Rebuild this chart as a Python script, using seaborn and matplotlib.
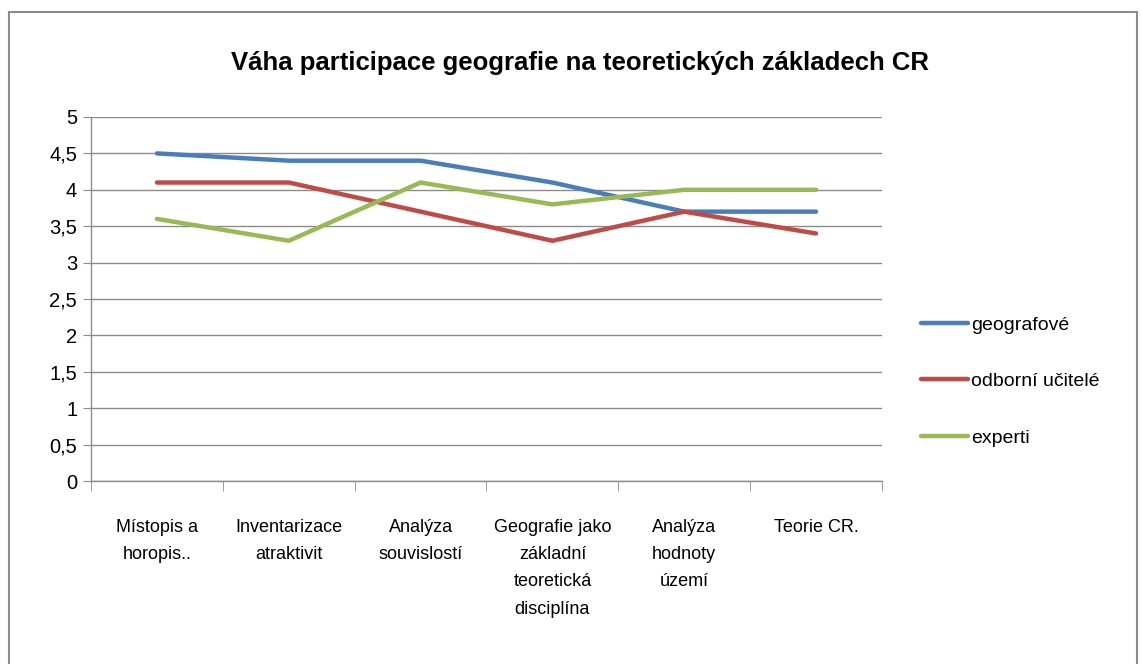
import pandas as pd
import numpy as np
import matplotlib
matplotlib.use("Agg")
import matplotlib.pyplot as plt
import seaborn as sns
from matplotlib.ticker import FuncFormatter, FixedLocator
from matplotlib.patches import Rectangle

# Data
categories = ["Místopis a\nhoropis..", "Inventarizace\natraktivit", "Analýza\nsouvislostí",
              "Geografie jako\nzákladní\nteoretická\ndisciplína", "Analýza\nhodnoty\núzemí", "Teorie CR."]
geografove = [4.5, 4.4, 4.4, 4.1, 3.7, 3.7]
ucitele = [4.1, 4.1, 3.7, 3.3, 3.7, 3.4]
experti = [3.6, 3.3, 4.1, 3.8, 4.0, 4.0]
series_names = ["geografové", "odborní učitelé", "experti"]
colors = ["#4A7EBB", "#BE4B48", "#98B954"]

data = pd.DataFrame({
    "x": list(range(len(categories))) * 3,
    "value": geografove + ucitele + experti,
    "series": [s for s in series_names for _ in categories],
})

sns.set_style("white")
plt.rcParams["font.family"] = ["Liberation Sans", "DejaVu Sans"]
plt.rcParams["text.color"] = "black"
plt.rcParams["xtick.color"] = "black"
plt.rcParams["ytick.color"] = "black"

fig = plt.figure(figsize=(11.42, 6.64), dpi=100)
ax = fig.add_axes([0.0797, 0.2756, 0.6926, 0.5482])

sns.lineplot(data=data, x="x", y="value", hue="series", palette=colors,
             linewidth=3.2, ax=ax, legend=True)

ax.set_xlim(-0.5, len(categories) - 0.5)
ax.set_ylim(0, 5)
ax.set_yticks(np.arange(0, 5.01, 0.5))
ax.yaxis.set_major_formatter(FuncFormatter(lambda v, p: f"{v:g}".replace(".", ",")))
ax.grid(axis="y", color="#8c8c8c", linewidth=1)
ax.set_axisbelow(True)

# category labels centred, ticks at boundaries
ax.set_xticks(range(len(categories)))
ax.set_xticklabels(categories, fontsize=13, linespacing=1.8, va="top")
ax.tick_params(axis="x", which="major", length=0, pad=27, labelcolor="black")
ax.xaxis.set_minor_locator(FixedLocator(np.arange(-0.5, len(categories), 1)))
ax.tick_params(axis="x", which="minor", length=7, color="#8c8c8c", direction="out", bottom=True)
ax.tick_params(axis="y", labelsize=14.5, length=6, color="#8c8c8c", direction="out", left=True,
               pad=4, labelcolor="black")

for side in ["top", "right"]:
    ax.spines[side].set_visible(False)
for side in ["left", "bottom"]:
    ax.spines[side].set_color("#8c8c8c")
    ax.spines[side].set_linewidth(1)

ax.set_xlabel("")
ax.set_ylabel("")

ax.set_title("Váha participace geografie na teoretických základech CR",
             fontsize=18.5, fontweight="bold", pad=34, x=0.618, color="black")

handles, labels = ax.get_legend_handles_labels()
leg = ax.legend(handles, labels, loc="center left", bbox_to_anchor=(1.04, 0.274),
                frameon=False, fontsize=14, handlelength=2.4, handletextpad=0.15,
                labelspacing=2.0, borderaxespad=0)
for line in leg.get_lines():
    line.set_linewidth(3.2)

# outer chart frame
fig.patches.append(Rectangle((0.008, -0.05), 0.988, 1.032, transform=fig.transFigure,
                             fill=False, edgecolor="#8c8c8c", linewidth=1.5))

fig.savefig("out.png", dpi=100)
